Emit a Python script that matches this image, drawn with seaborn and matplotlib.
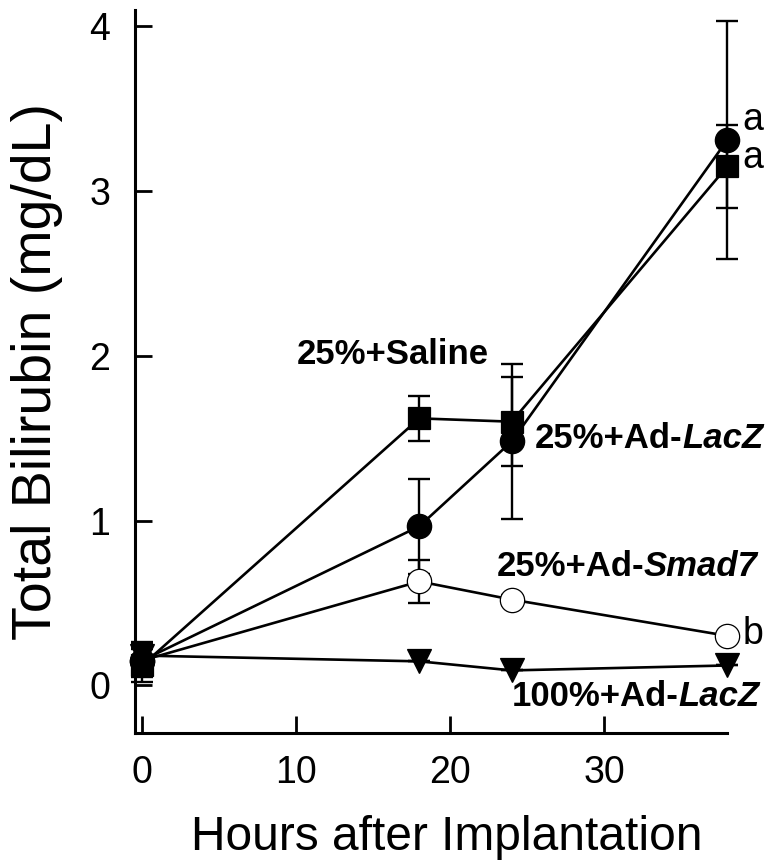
import matplotlib
matplotlib.use("Agg")
import matplotlib.pyplot as plt
import seaborn as sns
import pandas as pd

# Time points (hours after implantation)
hours = [0, 18, 24, 38]

# Total bilirubin (mg/dL), mean and error per group
saline_25 = [0.12, 1.62, 1.60, 3.15]
saline_25_err = [0.10, 0.135, 0.27, 0.25]

lacz_25 = [0.15, 0.965, 1.48, 3.31]
lacz_25_err = [0.10, 0.29, 0.47, 0.72]

smad7_25 = [0.15, 0.63, 0.52, 0.30]
smad7_25_err = [0.08, 0.13, 0.03, 0.0]

lacz_100 = [0.18, 0.145, 0.09, 0.12]
lacz_100_err = [0.08, 0.0, 0.0, 0.0]

sns.set_style("ticks")
plt.rcParams["font.family"] = ["Liberation Sans", "DejaVu Sans"]
plt.rcParams["text.color"] = "black"
plt.rcParams["axes.labelcolor"] = "black"

fig = plt.figure(figsize=(7.68, 8.65), dpi=100)
ax = fig.add_axes([0.176, 0.1526, 0.771, 0.836])

# drawn back to front: open circles end up hidden under the filled marks at 0 h
groups = [
    (smad7_25, smad7_25_err, "o", "white", 17.5),
    (lacz_100, lacz_100_err, "v", "black", 17),
    (saline_25, saline_25_err, "s", "black", 16),
    (lacz_25, lacz_25_err, "o", "black", 17.5),
]

for i, (vals, err, mk, face, ms) in enumerate(groups):
    df = pd.DataFrame({"hours": hours, "bili": vals})
    ax.errorbar(hours, vals, yerr=err, fmt="none", ecolor="black",
                elinewidth=1.7, capsize=8, capthick=1.7, zorder=2,
                clip_on=False)
    sns.lineplot(data=df, x="hours", y="bili", ax=ax, color="black",
                 linewidth=1.9, marker=mk, markersize=ms,
                 markerfacecolor=face, markeredgecolor="black",
                 markeredgewidth=0.9, zorder=3 + i * 0.1, clip_on=False)

ax.set_xlim(-0.45, 38)
ax.set_ylim(-0.29, 4.1)
ax.set_xticks([0, 10, 20, 30])
ax.set_yticks([0, 1, 2, 3, 4])
sns.despine(ax=ax)
for s in ["left", "bottom"]:
    ax.spines[s].set_linewidth(2.2)
    ax.spines[s].set_color("black")
ax.tick_params(direction="in", length=12, width=2.0, labelsize=27,
               pad=18, colors="black")
ax.tick_params(axis="x", pad=16)

ax.set_xlabel("Hours after Implantation", fontsize=34.5)
ax.set_ylabel("Total Bilirubin (mg/dL)", fontsize=40)
ax.xaxis.set_label_coords(0.527, -0.114)
ax.yaxis.set_label_coords(-0.122, 0.5)

# group labels
bold = dict(fontsize=25, fontweight="bold")
ax.text(22.55, 2.01, "25%+Saline", ha="right", va="center", **bold)

def label(x, y, plain, italic):
    t = ax.text(x, y, plain, ha="left", va="center", **bold)
    ax.annotate(italic, xy=(1, 0), xycoords=t, ha="left", va="bottom",
                fontstyle="italic", **bold)

label(25.5, 1.50, "25%+Ad-", "LacZ")
label(23.0, 0.72, "25%+Ad-", "Smad7")
label(24.0, -0.07, "100%+Ad-", "LacZ")

ax.text(39.0, 3.43, "a", fontsize=27, va="center", ha="left")
ax.text(39.0, 3.20, "a", fontsize=27, va="center", ha="left")
ax.text(39.0, 0.31, "b", fontsize=27, va="center", ha="left")

fig.savefig("out.png", dpi=100)
